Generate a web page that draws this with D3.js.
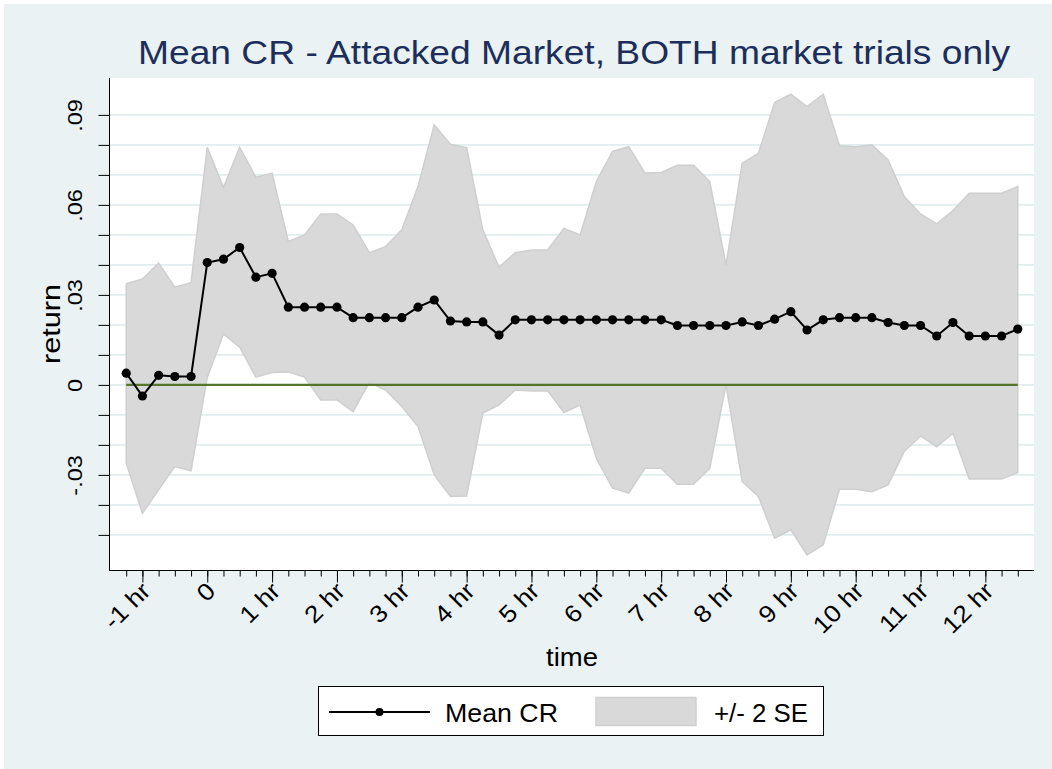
<!DOCTYPE html>
<html>
<head>
<meta charset="utf-8">
<script src="https://cdn.jsdelivr.net/npm/d3@7"></script>
<style>
  body { margin: 0; background: #fff; }
  text { font-family: 'Liberation Sans', Arial, sans-serif; }
</style>
</head>
<body>
<svg id="chart" width="1052" height="769"></svg>
<script>
// time in minutes relative to the attack, one point per 15 minutes
const minutes = [
  -75, -60, -45, -30, -15, 0, 15, 30, 45, 60, 75, 90, 105, 120,
  135, 150, 165, 180, 195, 210, 225, 240, 255, 270, 285, 300, 315, 330,
  345, 360, 375, 390, 405, 420, 435, 450, 465, 480, 495, 510, 525, 540,
  555, 570, 585, 600, 615, 630, 645, 660, 675, 690, 705, 720, 735, 750,
];

const meanCR = [
  0.0039, -0.0037, 0.0032, 0.0028, 0.0028, 0.0408, 0.0419, 0.0458, 0.0359, 0.0372,
  0.0259, 0.0259, 0.0259, 0.0259, 0.0224, 0.0224, 0.0224, 0.0224, 0.0259, 0.0283,
  0.0213, 0.0210, 0.0210, 0.0166, 0.0217, 0.0217, 0.0217, 0.0217, 0.0217, 0.0217,
  0.0217, 0.0217, 0.0217, 0.0217, 0.0198, 0.0198, 0.0198, 0.0198, 0.0210, 0.0198,
  0.0219, 0.0244, 0.0183, 0.0217, 0.0224, 0.0224, 0.0224, 0.0208, 0.0198, 0.0198,
  0.0163, 0.0208, 0.0163, 0.0163, 0.0163, 0.0186,
];

const upperSE = [
  0.0337, 0.0353, 0.0406, 0.0326, 0.0341, 0.0792, 0.0658, 0.0792, 0.0692, 0.0706,
  0.0478, 0.0500, 0.0570, 0.0570, 0.0533, 0.0441, 0.0461, 0.0517, 0.0661, 0.0867,
  0.0802, 0.0791, 0.0517, 0.0392, 0.0441, 0.0450, 0.0450, 0.0522, 0.0500, 0.0678,
  0.0778, 0.0794, 0.0706, 0.0708, 0.0732, 0.0732, 0.0678, 0.0400, 0.0739, 0.0772,
  0.0941, 0.0969, 0.0928, 0.0969, 0.0797, 0.0794, 0.0800, 0.0750, 0.0628, 0.0570,
  0.0537, 0.0581, 0.0639, 0.0639, 0.0639, 0.0661,
];

const lowerSE = [
  -0.0261, -0.0428, -0.0350, -0.0272, -0.0286, 0.0025, 0.0170, 0.0126, 0.0026, 0.0041,
  0.0043, 0.0026, -0.0050, -0.0050, -0.0089, 0.0008, -0.0017, -0.0072, -0.0139, -0.0300,
  -0.0372, -0.0370, -0.0094, -0.0067, -0.0017, -0.0020, -0.0020, -0.0092, -0.0067, -0.0244,
  -0.0344, -0.0361, -0.0278, -0.0278, -0.0331, -0.0331, -0.0278, 0.0000, -0.0322, -0.0372,
  -0.0511, -0.0483, -0.0567, -0.0533, -0.0348, -0.0348, -0.0356, -0.0333, -0.0222, -0.0170,
  -0.0206, -0.0161, -0.0314, -0.0314, -0.0314, -0.0292,
];

const hourTicks = [-60, 0, 60, 120, 180, 240, 300, 360, 420, 480, 540, 600, 660, 720];
const hourLabels = ['-1 hr', '0', '1 hr', '2 hr', '3 hr', '4 hr', '5 hr', '6 hr',
  '7 hr', '8 hr', '9 hr', '10 hr', '11 hr', '12 hr'];

const gridValues = [-0.05, -0.04, -0.03, -0.02, -0.01, 0, 0.01, 0.02, 0.03, 0.04,
  0.05, 0.06, 0.07, 0.08, 0.09];
const returnLabels = { '-0.03': '-.03', '0': '0', '0.03': '.03', '0.06': '.06', '0.09': '.09' };

const titleText = 'Mean CR - Attacked Market, BOTH market trials only';

const svg = d3.select('#chart');
const plot = { left: 110, right: 1034, top: 78, bottom: 570 };

const x = d3.scaleLinear()
  .domain([-90, 765])
  .range([plot.left, plot.right]);
const y = d3.scaleLinear()
  .domain([-0.0617, 0.1023])
  .range([plot.bottom, plot.top]);

// graph region, Stata keeps a thin white edge top and left
svg.append('rect').attr('width', 1052).attr('height', 769).attr('fill', '#fff');
svg.append('rect')
  .attr('x', 4).attr('y', 4)
  .attr('width', 1048).attr('height', 765)
  .attr('fill', '#eaf2f3');
svg.append('rect')
  .attr('x', plot.left).attr('y', plot.top)
  .attr('width', plot.right - plot.left)
  .attr('height', plot.bottom - plot.top)
  .attr('fill', '#fff');

svg.append('g')
  .selectAll('line')
  .data(gridValues)
  .enter()
  .append('line')
  .attr('x1', plot.left)
  .attr('x2', plot.right)
  .attr('y1', d => y(d))
  .attr('y2', d => y(d))
  .attr('stroke', '#e3ecef')
  .attr('stroke-width', 1.8);

const series = minutes.map((m, i) => ({
  m, mean: meanCR[i], hi: upperSE[i], lo: lowerSE[i],
}));

const band = d3.area()
  .x(d => x(d.m))
  .y0(d => y(d.lo))
  .y1(d => y(d.hi));
svg.append('path')
  .datum(series)
  .attr('d', band)
  .attr('fill', '#d9d9d9')
  .attr('stroke', '#cfcfcf')
  .attr('stroke-width', 1.5);

// zero reference line over the data range
svg.append('path')
  .datum(series)
  .attr('d', d3.line().x(d => x(d.m)).y(() => y(0)))
  .attr('fill', 'none')
  .attr('stroke', '#55752f')
  .attr('stroke-width', 2.2);

svg.append('path')
  .datum(series)
  .attr('d', d3.line().x(d => x(d.m)).y(d => y(d.mean)))
  .attr('fill', 'none')
  .attr('stroke', '#000')
  .attr('stroke-width', 2);
svg.append('g')
  .selectAll('circle')
  .data(series)
  .enter()
  .append('circle')
  .attr('cx', d => x(d.m))
  .attr('cy', d => y(d.mean))
  .attr('r', 4.6)
  .attr('fill', '#000');

// y axis
const yAxis = svg.append('g')
  .attr('transform', `translate(${plot.left - 0.5}, 0)`)
  .call(d3.axisLeft(y)
    .tickValues(gridValues)
    .tickSize(11)
    .tickSizeOuter(0)
    .tickFormat(d => returnLabels[String(+d.toFixed(2))] || ''));
yAxis.select('.domain').attr('d', `M0,${plot.top}V${plot.bottom + 0.5}`);
yAxis.selectAll('line').attr('stroke', '#000');
yAxis.selectAll('text')
  .attr('x', 0)
  .attr('dy', 0)
  .attr('fill', '#000')
  .attr('font-size', 21)
  .attr('text-anchor', 'middle')
  .attr('transform', 'translate(-27.5, 0) rotate(-90) scale(1.12, 1)');

// x axis: minor ticks every 15 min, labelled ticks every hour
const xMinor = svg.append('g')
  .attr('transform', `translate(0, ${plot.bottom + 0.5})`)
  .call(d3.axisBottom(x)
    .tickValues(minutes)
    .tickSize(6)
    .tickSizeOuter(0)
    .tickFormat(''));
xMinor.select('.domain').attr('d', `M${plot.left - 1},0H${plot.right}`);
xMinor.selectAll('line').attr('stroke', '#000');

const xMajor = svg.append('g')
  .attr('transform', `translate(0, ${plot.bottom + 0.5})`)
  .call(d3.axisBottom(x)
    .tickValues(hourTicks)
    .tickSize(12)
    .tickFormat((d, i) => hourLabels[i]));
xMajor.select('.domain').remove();
xMajor.selectAll('line').attr('stroke', '#000');
xMajor.selectAll('text')
  .attr('x', 0)
  .attr('y', 0)
  .attr('dy', 0)
  .attr('fill', '#000')
  .attr('font-size', 24)
  .attr('text-anchor', 'end')
  .attr('transform', 'translate(9, 22) rotate(-45) scale(1.1, 1)');

// titles
svg.append('text')
  .attr('x', 138)
  .attr('y', 64)
  .attr('font-size', 34)
  .attr('fill', '#1c2e5c')
  .attr('textLength', 872)
  .attr('lengthAdjust', 'spacingAndGlyphs')
  .text(titleText);

svg.append('text')
  .attr('x', (plot.left + plot.right) / 2)
  .attr('y', 666)
  .attr('font-size', 25)
  .attr('text-anchor', 'middle')
  .attr('textLength', 52)
  .attr('lengthAdjust', 'spacingAndGlyphs')
  .text('time');

svg.append('text')
  .attr('transform', `translate(60, ${(plot.top + plot.bottom) / 2}) rotate(-90)`)
  .attr('font-size', 26)
  .attr('text-anchor', 'middle')
  .attr('textLength', 80)
  .attr('lengthAdjust', 'spacingAndGlyphs')
  .text('return');

// legend
const legend = svg.append('g');
legend.append('rect')
  .attr('x', 318.5).attr('y', 686.5)
  .attr('width', 505).attr('height', 49)
  .attr('fill', '#fff')
  .attr('stroke', '#000');
legend.append('line')
  .attr('x1', 329).attr('x2', 430)
  .attr('y1', 712).attr('y2', 712)
  .attr('stroke', '#000')
  .attr('stroke-width', 2);
legend.append('circle')
  .attr('cx', 379.5).attr('cy', 712)
  .attr('r', 4)
  .attr('fill', '#000');
legend.append('text')
  .attr('x', 445).attr('y', 722)
  .attr('font-size', 26)
  .attr('textLength', 113)
  .attr('lengthAdjust', 'spacingAndGlyphs')
  .text('Mean CR');
legend.append('rect')
  .attr('x', 596).attr('y', 697.5)
  .attr('width', 100).attr('height', 28)
  .attr('fill', '#d9d9d9')
  .attr('stroke', '#cfcfcf')
  .attr('stroke-width', 1.5);
legend.append('text')
  .attr('x', 714).attr('y', 722)
  .attr('font-size', 26)
  .attr('textLength', 94)
  .attr('lengthAdjust', 'spacingAndGlyphs')
  .text('+/- 2 SE');
</script>
</body>
</html>
